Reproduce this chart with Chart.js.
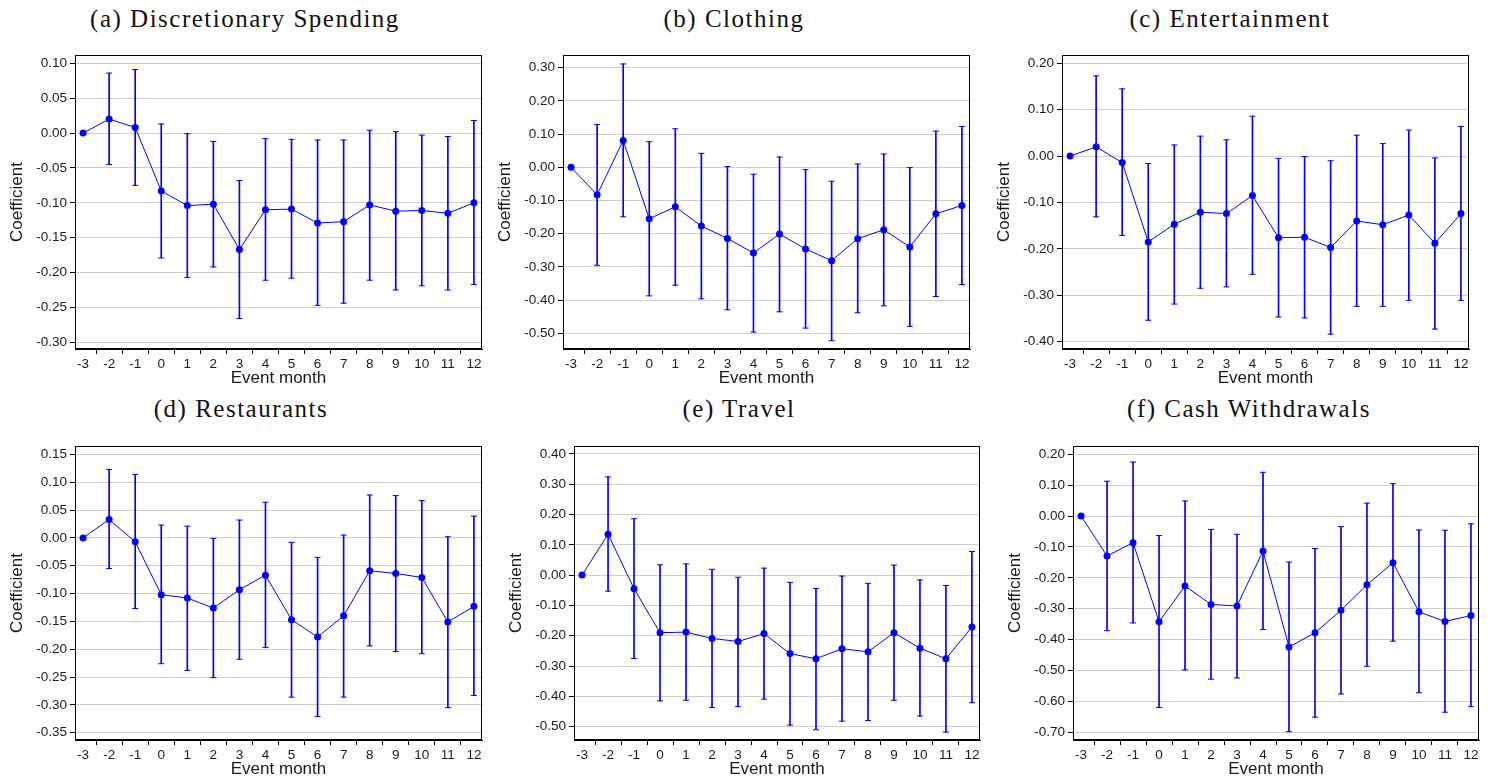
<!DOCTYPE html>
<html lang="en">
<head>
<meta charset="UTF-8">
<title>Event study coefficients</title>
<script src="https://cdn.jsdelivr.net/npm/chart.js@4.4.0/dist/chart.umd.min.js"></script>
<style>
  body { margin: 0; background: #fff; width: 1494px; height: 784px; overflow: hidden; position: relative; }
  canvas { position: absolute; }
  .ttl { position: absolute; font-family: "Liberation Serif", serif; font-size: 25px; letter-spacing: 1.5px;
         line-height: 1; white-space: nowrap; transform: translateX(-50%); color: #111; }
</style>
</head>
<body>
<script>
// event months on the x axis
const months = [-3, -2, -1, 0, 1, 2, 3, 4, 5, 6, 7, 8, 9, 10, 11, 12];

// (a) discretionary spending
const spendEst = [0, 0.020, 0.008, -0.083, -0.104, -0.102, -0.167, -0.110, -0.109, -0.129, -0.127, -0.103, -0.112, -0.111, -0.115, -0.100];
const spendHi  = [null, 0.086, 0.091, 0.013, -0.001, -0.012, -0.068, -0.008, -0.009, -0.010, -0.010, 0.004, 0.002, -0.003, -0.005, 0.018];
const spendLo  = [null, -0.045, -0.075, -0.179, -0.207, -0.192, -0.266, -0.211, -0.208, -0.247, -0.244, -0.211, -0.225, -0.219, -0.225, -0.217];
const spendTicks = [0.10, 0.05, 0.00, -0.05, -0.10, -0.15, -0.20, -0.25, -0.30];

// (b) clothing
const clothEst = [0, -0.083, 0.081, -0.155, -0.119, -0.177, -0.214, -0.258, -0.201, -0.246, -0.281, -0.215, -0.188, -0.240, -0.140, -0.115];
const clothHi  = [null, 0.129, 0.311, 0.077, 0.116, 0.042, 0.002, -0.021, 0.031, -0.007, -0.042, 0.010, 0.040, -0.001, 0.109, 0.123];
const clothLo  = [null, -0.295, -0.149, -0.387, -0.355, -0.396, -0.429, -0.496, -0.435, -0.484, -0.522, -0.438, -0.417, -0.479, -0.389, -0.353];
const clothTicks = [0.30, 0.20, 0.10, 0.00, -0.10, -0.20, -0.30, -0.40, -0.50];

// (c) entertainment
const entEst = [0, 0.020, -0.014, -0.185, -0.147, -0.121, -0.124, -0.085, -0.176, -0.175, -0.197, -0.140, -0.148, -0.127, -0.188, -0.124];
const entHi  = [null, 0.173, 0.145, -0.016, 0.024, 0.043, 0.035, 0.086, -0.005, -0.001, -0.010, 0.045, 0.027, 0.056, -0.004, 0.064];
const entLo  = [null, -0.131, -0.171, -0.354, -0.319, -0.285, -0.282, -0.255, -0.347, -0.349, -0.384, -0.324, -0.324, -0.311, -0.373, -0.311];
const entTicks = [0.20, 0.10, 0.00, -0.10, -0.20, -0.30, -0.40];

// (d) restaurants
const restEst = [0, 0.033, -0.007, -0.102, -0.108, -0.126, -0.093, -0.067, -0.147, -0.178, -0.140, -0.059, -0.064, -0.071, -0.151, -0.123];
const restHi  = [null, 0.123, 0.114, 0.023, 0.021, -0.001, 0.032, 0.064, -0.008, -0.035, 0.005, 0.077, 0.076, 0.067, 0.002, 0.039];
const restLo  = [null, -0.055, -0.127, -0.226, -0.238, -0.251, -0.218, -0.197, -0.286, -0.321, -0.286, -0.194, -0.204, -0.208, -0.305, -0.283];
const restTicks = [0.15, 0.10, 0.05, 0.00, -0.05, -0.10, -0.15, -0.20, -0.25, -0.30, -0.35];

// (e) travel
const travEst = [0, 0.135, -0.045, -0.190, -0.188, -0.209, -0.219, -0.193, -0.259, -0.276, -0.243, -0.253, -0.190, -0.241, -0.276, -0.171];
const travHi  = [null, 0.324, 0.186, 0.034, 0.037, 0.019, -0.007, 0.023, -0.024, -0.044, -0.003, -0.027, 0.033, -0.016, -0.034, 0.078];
const travLo  = [null, -0.053, -0.275, -0.415, -0.413, -0.437, -0.434, -0.409, -0.495, -0.510, -0.482, -0.480, -0.413, -0.465, -0.518, -0.421];
const travTicks = [0.40, 0.30, 0.20, 0.10, 0.00, -0.10, -0.20, -0.30, -0.40, -0.50];

// (f) cash withdrawals
const cashEst = [0, -0.129, -0.086, -0.342, -0.226, -0.286, -0.291, -0.113, -0.424, -0.378, -0.305, -0.222, -0.151, -0.310, -0.341, -0.322];
const cashHi  = [null, 0.113, 0.175, -0.063, 0.049, -0.043, -0.059, 0.142, -0.149, -0.105, -0.034, 0.042, 0.105, -0.045, -0.046, -0.025];
const cashLo  = [null, -0.371, -0.346, -0.620, -0.498, -0.528, -0.524, -0.367, -0.698, -0.651, -0.576, -0.486, -0.405, -0.572, -0.635, -0.617];
const cashTicks = [0.20, 0.10, 0.00, -0.10, -0.20, -0.30, -0.40, -0.50, -0.60, -0.70];

const BLUE = '#0000ff';
const SANS = '"Liberation Sans", Arial, sans-serif';

// plot area position (left, top, width) and title centre for each panel
const panels = [
  { title: '(a) Discretionary Spending', est: spendEst, hi: spendHi, lo: spendLo, ticks: spendTicks, min: -0.3096, max: 0.1119, L: 75,   T: 55,  W: 407, tx: 245,  ty: 6 },
  { title: '(b) Clothing',               est: clothEst, hi: clothHi, lo: clothLo, ticks: clothTicks, min: -0.547,  max: 0.338,  L: 563,  T: 55,  W: 407, tx: 734,  ty: 6 },
  { title: '(c) Entertainment',          est: entEst,   hi: entHi,   lo: entLo,   ticks: entTicks,   min: -0.416,  max: 0.218,  L: 1062, T: 55,  W: 407, tx: 1230, ty: 6 },
  { title: '(d) Restaurants',            est: restEst,  hi: restHi,  lo: restLo,  ticks: restTicks,  min: -0.363,  max: 0.165,  L: 75,   T: 446, W: 407, tx: 241,  ty: 396 },
  { title: '(e) Travel',                 est: travEst,  hi: travHi,  lo: travLo,  ticks: travTicks,  min: -0.544,  max: 0.426,  L: 574,  T: 446, W: 406, tx: 739,  ty: 396 },
  { title: '(f) Cash Withdrawals',       est: cashEst,  hi: cashHi,  lo: cashLo,  ticks: cashTicks,  min: -0.725,  max: 0.227,  L: 1073, T: 446, W: 406, tx: 1249, ty: 396 }
];

// black box round the plot area
const frame = {
  id: 'frame',
  afterDraw(chart) {
    const a = chart.chartArea, ctx = chart.ctx;
    ctx.save();
    ctx.strokeStyle = '#000';
    ctx.lineWidth = 1;
    ctx.strokeRect(Math.round(a.left) + 0.5, Math.round(a.top) + 0.5,
                   Math.round(a.right - a.left) - 1, Math.round(a.bottom - a.top) - 1);
    ctx.restore();
  }
};

function fmt(v) {
  if (Math.abs(v) < 1e-9) return '0.00';
  return v.toFixed(2);
}

panels.forEach(p => {
  const t = document.createElement('div');
  t.className = 'ttl';
  t.style.left = p.tx + 'px';
  t.style.top = p.ty + 'px';
  t.textContent = p.title;
  document.body.appendChild(t);

  const cv = document.createElement('canvas');
  cv.width = 70 + p.W + 10;
  cv.height = 14 + 294 + 41;
  cv.style.left = (p.L - 70) + 'px';
  cv.style.top = (p.T - 14) + 'px';
  document.body.appendChild(cv);

  const line = months.map((m, i) => ({ x: m, y: p.est[i] }));
  const whiskers = [];
  const caps = [];
  months.forEach((m, i) => {
    if (p.hi[i] === null) return;
    whiskers.push({ x: m, y: [p.lo[i], p.hi[i]] });
    caps.push({ x: m, y: p.hi[i] });
    caps.push({ x: m, y: p.lo[i] });
  });

  new Chart(cv, {
    type: 'line',
    data: {
      datasets: [
        { type: 'line', data: line, borderColor: BLUE, borderWidth: 1, pointRadius: 3.5,
          pointBackgroundColor: BLUE, pointBorderWidth: 0, order: 0 },
        { type: 'line', data: caps, showLine: false, pointStyle: 'line', pointRadius: 3,
          borderColor: BLUE, pointBorderColor: BLUE, pointBorderWidth: 1, order: 1 },
        { type: 'bar', data: whiskers, backgroundColor: BLUE, barThickness: 1, borderWidth: 0, order: 2 }
      ]
    },
    options: {
      responsive: false,
      animation: false,
      layout: { padding: { top: 14, right: 10, left: 0, bottom: 0 } },
      plugins: { legend: { display: false }, tooltip: { enabled: false } },
      scales: {
        x: {
          type: 'linear', min: -3.31, max: 12.31, offset: false,
          afterBuildTicks: s => { s.ticks = months.map(v => ({ value: v })); },
          afterFit: s => { s.height = 41; },
          grid: { drawOnChartArea: false, drawTicks: true, tickLength: 5, tickColor: '#000' },
          border: { display: true, color: '#000', width: 1 },
          ticks: { autoSkip: false, maxRotation: 0, padding: 2, color: '#1a1a1a',
                   font: { family: SANS, size: 13.5 }, callback: v => String(v) },
          title: { display: true, text: 'Event month', color: '#1a1a1a',
                   font: { family: SANS, size: 17 }, padding: { top: 0, bottom: 1 } }
        },
        y: {
          min: p.min, max: p.max,
          afterBuildTicks: s => { s.ticks = p.ticks.map(v => ({ value: v })); },
          afterFit: s => { s.width = 70; },
          grid: { color: '#cfcfcf', lineWidth: 1, tickColor: '#000', tickLength: 5 },
          border: { display: true, color: '#000', width: 1 },
          ticks: { padding: 3, color: '#1a1a1a', font: { family: SANS, size: 13.5 }, callback: v => fmt(v) },
          title: { display: true, text: 'Coefficient', color: '#1a1a1a',
                   font: { family: SANS, size: 17 }, padding: { top: 2, bottom: 0 } }
        }
      }
    },
    plugins: [frame]
  });
});
</script>
</body>
</html>
